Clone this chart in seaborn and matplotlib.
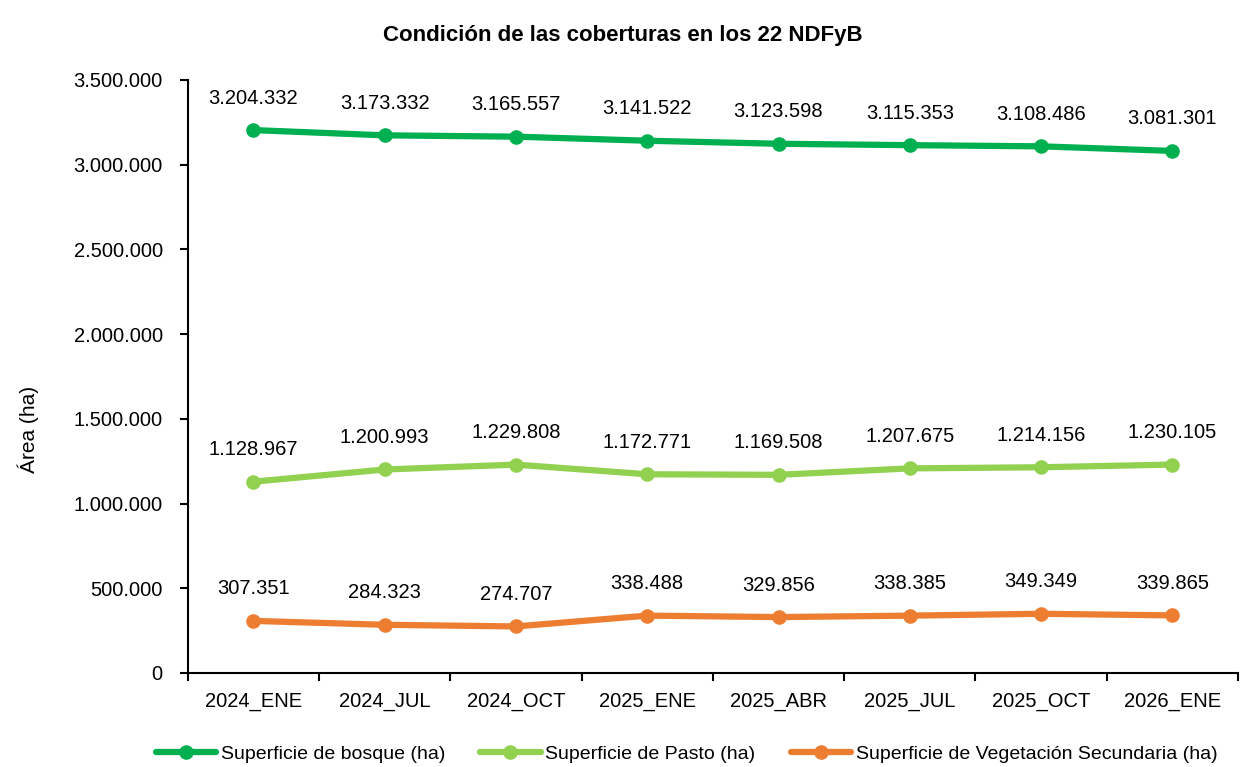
import pandas as pd
import matplotlib.pyplot as plt
import seaborn as sns
from matplotlib.ticker import FuncFormatter, FixedLocator

# datos
periodos = ['2024_ENE', '2024_JUL', '2024_OCT', '2025_ENE', '2025_ABR', '2025_JUL', '2025_OCT', '2026_ENE']
bosque = [3204332, 3173332, 3165557, 3141522, 3123598, 3115353, 3108486, 3081301]
pasto = [1128967, 1200993, 1229808, 1172771, 1169508, 1207675, 1214156, 1230105]
veg_sec = [307351, 284323, 274707, 338488, 329856, 338385, 349349, 339865]
series = ['Superficie de bosque (ha)', 'Superficie de Pasto (ha)', 'Superficie de Vegetación Secundaria (ha)']
colores = ['#00B050', '#92D050', '#ED7D31']

sns.set_theme(style='white')
plt.rcParams['font.family'] = ['Liberation Sans', 'DejaVu Sans']
plt.rcParams['text.color'] = 'black'
plt.rcParams['xtick.color'] = 'black'
plt.rcParams['ytick.color'] = 'black'
plt.rcParams['axes.labelcolor'] = 'black'


def miles(v, pos=None):
    return f'{int(round(v)):,}'.replace(',', '.')


df = pd.DataFrame({'periodo': periodos * 3,
                   'valor': bosque + pasto + veg_sec,
                   'serie': [s for s in series for _ in periodos]})

fig = plt.figure(figsize=(12.43, 7.67), dpi=100)
ax = fig.add_axes([0.151, 0.1226, 0.845, 0.7731])

sns.lineplot(data=df, x='periodo', y='valor', hue='serie', hue_order=series,
             palette=colores, marker='o', markersize=10.5, markeredgewidth=0,
             linewidth=4.5, sort=False, ax=ax)

# etiquetas de datos
for vals in (bosque, pasto, veg_sec):
    for i, v in enumerate(vals):
        ax.annotate(miles(v), (i, v), xytext=(0, 23), textcoords='offset points',
                    ha='center', va='center', fontsize=14.5, color='black')

ax.set_xlim(-0.5, len(periodos) - 0.5)
ax.set_ylim(0, 3500000)
ax.yaxis.set_major_locator(FixedLocator(range(0, 3500001, 500000)))
ax.yaxis.set_major_formatter(FuncFormatter(miles))

# marcas del eje x entre categorías
ax.xaxis.set_minor_locator(FixedLocator([i - 0.5 for i in range(len(periodos) + 1)]))
ax.tick_params(axis='x', which='major', length=0, pad=14, labelsize=14.5)
ax.tick_params(axis='x', which='minor', length=6, width=1.5, direction='out', bottom=True)
ax.tick_params(axis='y', length=6, width=1.5, direction='out', left=True, labelsize=14.5, pad=12)

for s in ['top', 'right']:
    ax.spines[s].set_visible(False)
for s in ['left', 'bottom']:
    ax.spines[s].set_color('black')
    ax.spines[s].set_linewidth(1.5)

ax.set_xlabel('')
ax.set_ylabel('Área (ha)', fontsize=15)
ax.yaxis.set_label_coords(-0.142, 0.41)
ax.set_title('Condición de las coberturas en los 22 NDFyB', fontsize=16,
             fontweight='bold', pad=28, x=0.414)

ax.legend(loc='upper center', bbox_to_anchor=(0.475, -0.092), ncol=3, frameon=False,
          fontsize=14, handlelength=3.1, columnspacing=1.8, handletextpad=0.25)

fig.savefig('out.png', dpi=100)
